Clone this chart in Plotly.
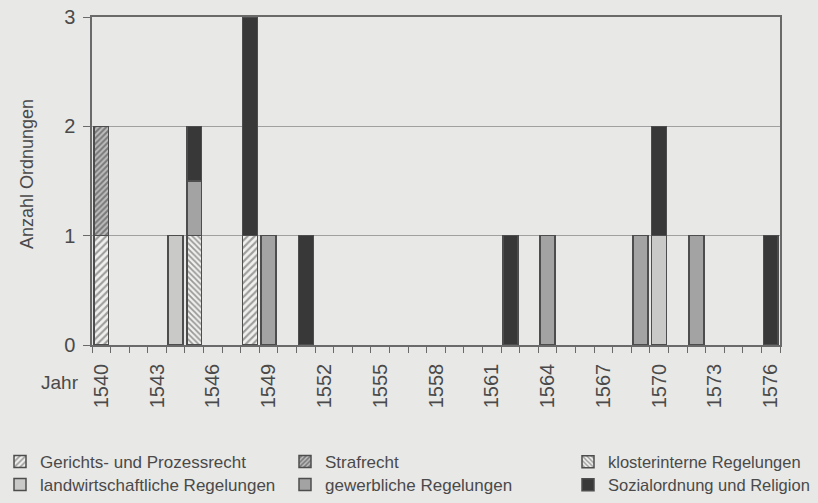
import plotly.graph_objects as go

# ---- data ----
year_first, year_last = 1540, 1576
label_years = list(range(1540, 1577, 3))

gerichts_years = [1540, 1548]
gerichts_vals = [1, 1]
straf_years = [1540]
straf_vals = [1]
kloster_years = [1545]
kloster_vals = [1]
landw_years = [1544, 1570]
landw_vals = [1, 1]
gewerb_years = [1545, 1549, 1564, 1569, 1572]
gewerb_vals = [0.5, 1, 1, 1, 1]
sozial_years = [1545, 1548, 1551, 1562, 1570, 1576]
sozial_vals = [0.5, 2, 1, 1, 1, 1]

names = ["Gerichts- und Prozessrecht", "Strafrecht", "klosterinterne Regelungen",
         "landwirtschaftliche Regelungen", "gewerbliche Regelungen", "Sozialordnung und Religion"]

FONT = "Liberation Sans, Arial, sans-serif"
TXT = "#4a4a4a"
BG = "#e8e8e6"
EDGE = "#4d4d4d"

W, H = 818, 503

series = [
    (gerichts_years, gerichts_vals, dict(color="#f0f0ee", pattern=dict(shape="/", fgcolor="#4a4a4a", bgcolor="#f0f0ee", size=5, solidity=0.42))),
    (straf_years, straf_vals, dict(color="#bdbdbd", pattern=dict(shape="/", fgcolor="#333333", bgcolor="#bdbdbd", size=4, solidity=0.5))),
    (kloster_years, kloster_vals, dict(color="#f0f0ee", pattern=dict(shape="\\", fgcolor="#404040", bgcolor="#f0f0ee", size=4, solidity=0.45))),
    (landw_years, landw_vals, dict(color="#c9c9c7")),
    (gewerb_years, gewerb_vals, dict(color="#a3a3a3")),
    (sozial_years, sozial_vals, dict(color="#383838")),
]

# plot area on the page: x 92..780, y 17..345
PL, PR, PT, PB = 92, 780, 17, 345
pw, ph = PR - PL, PB - PT

# legend item positions on the page (left of item, vertical centre)
leg_pos = [(0, 462), (285, 462), (568, 462), (0, 485), (285, 485), (568, 485)]
leg_size = [17, 17, 16.5, 17, 17, 16.5]

fig = go.Figure()
for i, ((xs, ys, mk), nm) in enumerate(zip(series, names)):
    mk = dict(mk)
    mk["line"] = dict(color=EDGE, width=1.5)
    lg = "legend" if i == 0 else f"legend{i+1}"
    fig.add_trace(go.Bar(x=xs, y=ys, name=nm, width=0.8, marker=mk, legend=lg))

layout_legends = {}
for i, ((px, py), fs) in enumerate(zip(leg_pos, leg_size)):
    key = "legend" if i == 0 else f"legend{i+1}"
    layout_legends[key] = dict(
        xref="paper", yref="paper", x=(px - PL) / pw, y=(PB - py) / ph,
        xanchor="left", yanchor="middle", bgcolor="rgba(0,0,0,0)",
        font=dict(family=FONT, size=fs, color=TXT), itemwidth=30,
        itemclick=False, itemdoubleclick=False,
    )

fig.update_layout(
    width=W, height=H,
    margin=dict(l=PL, r=W - PR, t=PT, b=H - PB, autoexpand=False),
    paper_bgcolor=BG, plot_bgcolor=BG,
    barmode="stack", showlegend=True, hovermode=False,
    font=dict(family=FONT, size=18, color=TXT),
    **layout_legends,
)

fig.update_xaxes(
    range=[year_first - 0.5, year_last + 0.5],
    tickmode="array", tickvals=label_years, ticktext=[str(y) for y in label_years],
    tickangle=-90, ticks="outside", ticklen=9, tickcolor="rgba(0,0,0,0)",
    tickfont=dict(family=FONT, size=20, color=TXT), ticklabeloverflow="allow",
    showline=True, linecolor="#6a6a6a", linewidth=1.5, mirror=True,
    showgrid=False, zeroline=False, automargin=False,
    minor=dict(tickmode="linear", tick0=year_first - 0.5, dtick=1, ticks="outside",
               ticklen=6, tickcolor="#6a6a6a", tickwidth=1, showgrid=False),
)
fig.update_yaxes(
    range=[0, 3], tickmode="array", tickvals=[0, 1, 2, 3],
    ticks="outside", ticklen=7, tickcolor="#6a6a6a", tickwidth=1,
    tickfont=dict(family=FONT, size=20, color=TXT), ticklabelstandoff=4,
    ticklabeloverflow="allow",
    showline=True, linecolor="#6a6a6a", linewidth=1.5, mirror=True,
    showgrid=True, gridcolor="#a0a0a0", gridwidth=1, zeroline=False,
    automargin=False,
)

fig.add_annotation(text="Anzahl Ordnungen", xref="paper", yref="paper",
                   x=(27 - PL) / pw, y=(PB - 174) / ph, xanchor="center", yanchor="middle",
                   textangle=-90, showarrow=False, font=dict(family=FONT, size=18, color=TXT))
fig.add_annotation(text="Jahr", xref="paper", yref="paper",
                   x=(60 - PL) / pw, y=(PB - 382) / ph, xanchor="center", yanchor="middle",
                   showarrow=False, font=dict(family=FONT, size=19, color=TXT))

fig.write_html("out.html", config={"displayModeBar": False},
               post_script="document.body.style.margin='0';document.body.style.overflow='hidden';")
